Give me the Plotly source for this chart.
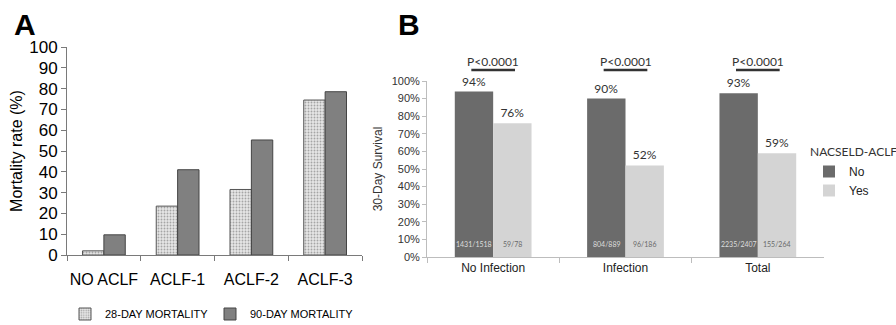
import plotly.graph_objects as go

# ---- Panel A data ----
cats_a = ["NO ACLF", "ACLF-1", "ACLF-2", "ACLF-3"]
mort_28 = [2.0, 23.5, 31.5, 74.5]
mort_90 = [9.7, 41.0, 55.3, 78.5]
ticks_a = [0, 10, 20, 30, 40, 50, 60, 70, 80, 90, 100]

# ---- Panel B data ----
cats_b = ["No Infection", "Infection", "Total"]
surv_no = [0.94, 0.90, 0.93]
surv_yes = [0.76, 0.52, 0.59]
counts_no = ["1431/1518", "804/889", "2235/2407"]
counts_yes = ["59/78", "96/186", "155/264"]
pvals = ["P<0.0001", "P<0.0001", "P<0.0001"]
ticks_b = [0, 0.1, 0.2, 0.3, 0.4, 0.5, 0.6, 0.7, 0.8, 0.9, 1.0]

ARIAL = "Arial, Liberation Sans, sans-serif"
CAL = "Lato, Open Sans, sans-serif"

fig = go.Figure()

fig.add_trace(go.Bar(
    x=cats_a, y=mort_28, name="28-DAY MORTALITY", xaxis="x", yaxis="y",
    marker=dict(color="#e2e2e2", line=dict(color="#555555", width=1),
                pattern=dict(shape=".", fgcolor="#a5a5a5", bgcolor="#e6e6e6",
                             size=3, solidity=0.3, fillmode="replace")),
    legend="legend",
))
fig.add_trace(go.Bar(
    x=cats_a, y=mort_90, name="90-DAY MORTALITY", xaxis="x", yaxis="y",
    marker=dict(color="#808080", line=dict(color="#444444", width=1)),
    legend="legend",
))

fig.add_trace(go.Bar(
    x=cats_b, y=surv_no, name="No", xaxis="x2", yaxis="y2",
    marker=dict(color="#6b6b6b", line=dict(width=0)),
    text=[f"{v:.0%}" for v in surv_no], textposition="outside",
    textfont=dict(family=CAL, size=12, color="#333333"), cliponaxis=False,
    legend="legend2",
))
fig.add_trace(go.Bar(
    x=cats_b, y=surv_yes, name="Yes", xaxis="x2", yaxis="y2",
    marker=dict(color="#d4d4d4", line=dict(width=0)),
    text=[f"{v:.0%}" for v in surv_yes], textposition="outside",
    textfont=dict(family=CAL, size=12, color="#333333"), cliponaxis=False,
    legend="legend2",
))

annotations = []
shapes = []
for i, c in enumerate(cats_b):
    annotations.append(dict(x=c, y=0.075, xref="x2", yref="y2", text=counts_no[i],
                            xshift=-19, showarrow=False,
                            font=dict(family=CAL, size=7, color="#dddddd")))
    annotations.append(dict(x=c, y=0.075, xref="x2", yref="y2", text=counts_yes[i],
                            xshift=19, showarrow=False,
                            font=dict(family=CAL, size=7, color="#6a6a6a")))
    annotations.append(dict(x=c, y=1.108, xref="x2", yref="y2 domain", text=pvals[i],
                            showarrow=False, yanchor="middle", xanchor="center",
                            font=dict(family=CAL, size=12, color="#333333")))
    shapes.append(dict(type="line", xref="x2", yref="y2 domain", x0=i - 0.165, x1=i + 0.165,
                       y0=1.063, y1=1.063, line=dict(color="#333333", width=2.5)))

annotations.append(dict(x=12 / 896, y=1 - 6 / 325, xref="paper", yref="paper", text="<b>A</b>",
                        showarrow=False, xanchor="left", yanchor="top",
                        font=dict(family=ARIAL, size=30, color="black")))
annotations.append(dict(x=396 / 896, y=1 - 6 / 325, xref="paper", yref="paper", text="<b>B</b>",
                        showarrow=False, xanchor="left", yanchor="top",
                        font=dict(family=ARIAL, size=30, color="black")))
annotations.append(dict(x=808 / 896, y=1 - 152 / 325, xref="paper", yref="paper",
                        text="NACSELD-ACLF", showarrow=False, xanchor="left", yanchor="middle",
                        font=dict(family=CAL, size=12, color="#333333")))

fig.update_layout(
    width=896, height=325,
    margin=dict(l=0, r=0, t=0, b=0, autoexpand=False),
    paper_bgcolor="white", plot_bgcolor="white",
    barmode="group", bargap=0.42, bargroupgap=0,
    font=dict(family=ARIAL, color="black"),
    xaxis=dict(domain=[67 / 896, 362 / 896], anchor="y", showline=True, linecolor="#7a7a7a",
               linewidth=1, ticks="outside", tickson="boundaries", ticklen=5, tickcolor="#7a7a7a",
               tickfont=dict(size=16, color="black"), tickangle=0, ticklabelstandoff=10,
               showgrid=False),
    yaxis=dict(domain=[70 / 325, 278 / 325], anchor="x", range=[0, 100], tickvals=ticks_a,
               showline=True, linecolor="#7a7a7a", linewidth=1, ticks="outside", ticklen=5,
               tickcolor="#7a7a7a", tickfont=dict(size=17, color="black"), showgrid=False,
               zeroline=False,
               title=dict(text="Mortality rate (%)", font=dict(size=16, color="black"), standoff=2)),
    xaxis2=dict(domain=[427 / 896, 824 / 896], anchor="y2", showline=True, linecolor="#bdbdbd",
                linewidth=1, ticks="outside", tickson="boundaries", ticklen=5, tickcolor="#bdbdbd",
                tickfont=dict(size=12, color="#222222"), tickangle=0, showgrid=False),
    yaxis2=dict(domain=[68 / 325, 244 / 325], anchor="x2", range=[0, 1], tickvals=ticks_b,
                tickformat=".0%", showline=True, linecolor="#bdbdbd", linewidth=1,
                ticks="outside", ticklen=4, tickcolor="#bdbdbd",
                tickfont=dict(size=11, color="#333333"), showgrid=False, zeroline=False,
                title=dict(text="30-Day Survival", font=dict(size=12, color="#333333"), standoff=6)),
    legend=dict(orientation="h", x=65 / 896, y=11 / 325, xanchor="left", yanchor="middle",
                font=dict(family=ARIAL, size=11, color="black"), entrywidth=100,
                bgcolor="rgba(0,0,0,0)"),
    legend2=dict(x=809 / 896, y=1 - 157 / 325, xanchor="left", yanchor="top",
                 font=dict(family=ARIAL, size=12, color="#222222"), tracegroupgap=0,
                 bgcolor="rgba(0,0,0,0)"),
    annotations=annotations,
    shapes=shapes,
)

fig.write_html("out.html", config={"displayModeBar": False},
               post_script="document.body.style.margin='0';document.body.style.padding='0';")
